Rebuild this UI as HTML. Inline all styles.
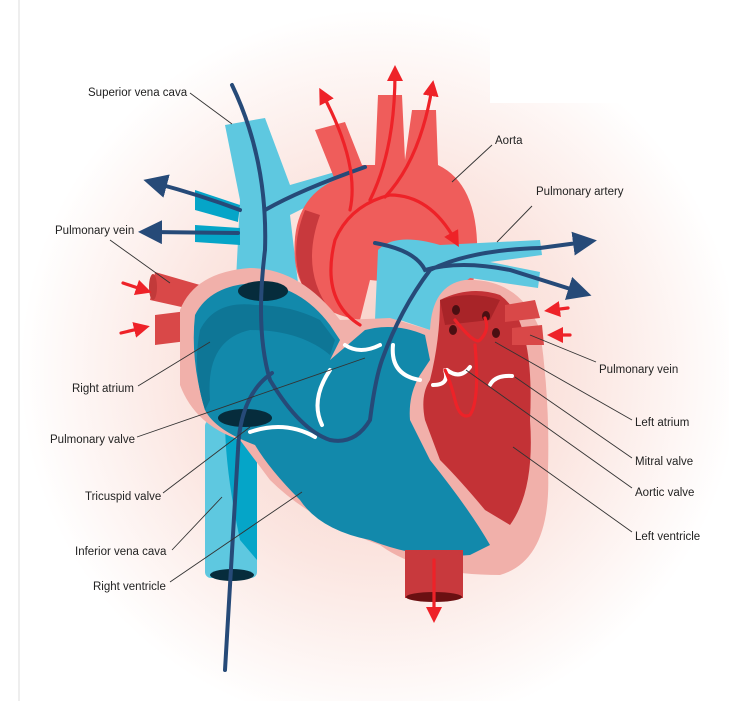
<!DOCTYPE html>
<html><head><style>
html,body{margin:0;padding:0;background:#fff;}
svg{display:block;}
text{font-family:"Liberation Sans",sans-serif;font-size:11.5px;fill:#222;}
</style></head><body>
<svg width="729" height="701" viewBox="0 0 729 701" xmlns="http://www.w3.org/2000/svg">
<defs>
<radialGradient id="g" cx="380" cy="370" r="360" gradientUnits="userSpaceOnUse">
<stop offset="0" stop-color="#f8cfc6"/><stop offset="0.55" stop-color="#fbe6e1"/><stop offset="1" stop-color="#ffffff"/>
</radialGradient>
<marker id="an" markerWidth="6" markerHeight="6" refX="3" refY="3" orient="auto" markerUnits="strokeWidth"><path d="M0,0 L6,3 L0,6 Z" fill="#264a78"/></marker>
<marker id="ar" markerWidth="5" markerHeight="5" refX="2.5" refY="2.5" orient="auto" markerUnits="strokeWidth"><path d="M0,0 L5,2.5 L0,5 Z" fill="#ee2228"/></marker>
</defs>
<rect width="729" height="701" fill="url(#g)"/>
<rect x="490" y="0" width="239" height="103" fill="#fff"/>
<line x1="19" y1="0" x2="19" y2="701" stroke="#ddd" stroke-width="1"/>

<!-- inferior vena cava -->
<rect x="205" y="420" width="52" height="158" rx="6" fill="#5ec8e0"/>
<path d="M225 420 L257 420 L257 560 L240 540 Q225 470 225 420Z" fill="#05a5c8"/>
<ellipse cx="232" cy="575" rx="22" ry="6" fill="#062c3c"/>

<!-- left pulmonary veins (red) -->
<path d="M155 272 L200 285 L195 310 L150 300Z" fill="#d94848"/>
<ellipse cx="153" cy="287" rx="4" ry="13" fill="#c23a3a"/>
<path d="M155 315 L195 310 L195 340 L155 345Z" fill="#d94848"/>
<!-- superior vena cava -->
<path d="M225 125 L265 118 L290 185 L335 172 L340 190 L290 215 L300 300 L235 300 L240 200Z" fill="#5ec8e0"/>
<path d="M195 190 L240 205 L238 222 L195 210Z" fill="#05a5c8"/>
<path d="M195 225 L240 228 L240 245 L195 242Z" fill="#05a5c8"/>

<!-- aorta -->
<path d="M315 130 L345 122 L362 165 L375 165 L378 95 L402 95 L405 160 L412 110 L436 110 L438 165 Q480 185 477 260 L470 300 L430 300 L420 285 L370 280 L360 320 Q300 310 295 260 Q290 200 335 180 Z" fill="#ef5d5b"/>
<path d="M305 210 Q285 260 310 300 L330 310 Q300 270 320 215Z" fill="#c8393d"/>
<!-- pulmonary artery -->
<path d="M378 250 Q395 232 440 245 L540 240 L542 255 L490 262 L540 272 L538 288 L470 278 L440 300 L430 330 L400 320 L375 320 Z" fill="#5ec8e0"/>

<!-- heart outer pink -->
<path d="M180 310 Q195 272 250 268 Q300 268 340 320 L390 318 L430 330 Q432 285 465 280 Q520 278 540 330 Q550 400 548 470 Q552 560 500 575 Q420 575 380 545 Q310 520 270 480 L240 440 Q195 425 180 385 Z" fill="#f1b0aa"/>
<!-- right heart dark -->
<path d="M195 315 Q210 285 255 283 Q300 285 330 325 L340 340 L330 360 L365 330 Q395 322 425 335 L430 360 L420 375 Q408 395 410 420 L430 460 Q470 510 490 545 L470 555 Q420 560 370 540 Q320 530 300 500 Q270 470 255 445 Q215 430 205 410 Q190 360 195 315Z" fill="#1289ab"/>
<path d="M200 330 Q215 300 255 305 Q290 305 320 320 L335 340 L330 355 Q300 330 250 330 Q205 340 210 400 L205 410 Q192 370 200 330Z" fill="#0e7696"/>
<ellipse cx="263" cy="291" rx="25" ry="10" fill="#062c3c"/>
<ellipse cx="245" cy="418" rx="27" ry="9" fill="#062c3c"/>
<!-- left heart red -->
<path d="M440 300 Q470 285 500 295 Q535 320 530 420 Q535 490 510 525 L485 510 Q460 480 440 460 L425 420 Q420 395 430 380 Q440 340 440 300Z" fill="#c33236"/>
<path d="M440 300 Q470 290 500 300 L490 320 L445 325Z" fill="#a82428"/>
<ellipse cx="456" cy="310" rx="4" ry="5" fill="#4a0f12"/><ellipse cx="486" cy="316" rx="4" ry="5" fill="#4a0f12"/>
<ellipse cx="453" cy="330" rx="4" ry="5" fill="#4a0f12"/><ellipse cx="496" cy="333" rx="4" ry="5" fill="#4a0f12"/>
<!-- bottom aorta -->
<rect x="405" y="550" width="58" height="48" fill="#c8393d"/>
<ellipse cx="434" cy="597" rx="28" ry="5" fill="#6a1012"/>
<!-- right red veins -->
<path d="M505 305 L535 300 L540 318 L505 322Z" fill="#d94848"/>
<path d="M512 328 L542 325 L544 345 L512 345Z" fill="#d94848"/>

<!-- white valves -->
<g fill="none" stroke="#fff" stroke-width="4" stroke-linecap="round">
<path d="M250 432 Q285 420 315 437"/>
<path d="M345 345 Q360 355 380 345"/>
<path d="M330 370 Q310 400 322 425"/>
<path d="M393 345 Q390 375 420 380"/>
<path d="M433 385 Q450 385 445 370"/>
<path d="M447 370 Q460 380 470 367"/>
<path d="M490 385 Q495 375 512 376"/>
</g>

<!-- navy flow lines -->
<g fill="none" stroke="#264a78" stroke-width="4" stroke-linecap="round">
<path d="M232 85 Q268 160 265 250 Q255 330 270 380 Q300 430 330 440 Q355 445 370 420 Q375 380 382 360 Q400 310 430 270 Q470 250 540 248"/>
<path d="M265 210 Q300 190 365 167"/>
<path d="M240 210 Q200 195 155 183" marker-end="url(#an)"/>
<path d="M238 233 L150 232" marker-end="url(#an)"/>
<path d="M540 248 L585 242" marker-end="url(#an)"/>
<path d="M375 243 Q415 250 425 270 Q460 260 510 270 L580 292" marker-end="url(#an)"/>
<path d="M272 373 Q240 395 238 450 L225 670"/>
</g>

<!-- red flow lines -->
<g fill="none" stroke="#ee2228" stroke-width="3.2" stroke-linecap="round">
<path d="M360 325 Q320 300 335 240 Q350 205 390 195 Q430 195 455 240" marker-end="url(#ar)"/>
<path d="M350 210 Q360 165 323 95" marker-end="url(#ar)"/>
<path d="M370 200 Q395 150 395 73" marker-end="url(#ar)"/>
<path d="M385 197 Q420 160 432 88" marker-end="url(#ar)"/>
<path d="M123 283 L144 290" marker-end="url(#ar)"/>
<path d="M121 333 L142 328" marker-end="url(#ar)"/>
<path d="M568 308 L552 310" marker-end="url(#ar)"/>
<path d="M570 335 L555 335" marker-end="url(#ar)"/>
<path d="M455 320 Q475 345 480 340 Q490 330 485 318"/>
<path d="M475 345 Q480 400 470 415 Q460 420 455 400 Q450 380 445 370"/>
<path d="M434 560 L434 615" marker-end="url(#ar)"/>
</g>

<!-- leader lines -->
<g stroke="#333" stroke-width="0.9" fill="none">
<line x1="190" y1="93" x2="232" y2="124"/>
<line x1="492" y1="145" x2="452" y2="182"/>
<line x1="532" y1="206" x2="497" y2="242"/>
<line x1="110" y1="240" x2="170" y2="283"/>
<line x1="596" y1="362" x2="530" y2="335"/>
<line x1="138" y1="386" x2="210" y2="342"/>
<line x1="632" y1="420" x2="495" y2="342"/>
<line x1="137" y1="437" x2="365" y2="358"/>
<line x1="632" y1="458" x2="515" y2="377"/>
<line x1="163" y1="493" x2="250" y2="427"/>
<line x1="632" y1="488" x2="466" y2="370"/>
<line x1="632" y1="532" x2="513" y2="447"/>
<line x1="172" y1="550" x2="222" y2="497"/>
<line x1="170" y1="582" x2="302" y2="492"/>
</g>

<text x="88" y="96">Superior vena cava</text>
<text x="495" y="144">Aorta</text>
<text x="536" y="195">Pulmonary artery</text>
<text x="55" y="234">Pulmonary vein</text>
<text x="599" y="373">Pulmonary vein</text>
<text x="72" y="392">Right atrium</text>
<text x="635" y="426">Left atrium</text>
<text x="50" y="443">Pulmonary valve</text>
<text x="635" y="465">Mitral valve</text>
<text x="85" y="500">Tricuspid valve</text>
<text x="635" y="496">Aortic valve</text>
<text x="635" y="540">Left ventricle</text>
<text x="75" y="555">Inferior vena cava</text>
<text x="93" y="590">Right ventricle</text>
</svg>
</body></html>
